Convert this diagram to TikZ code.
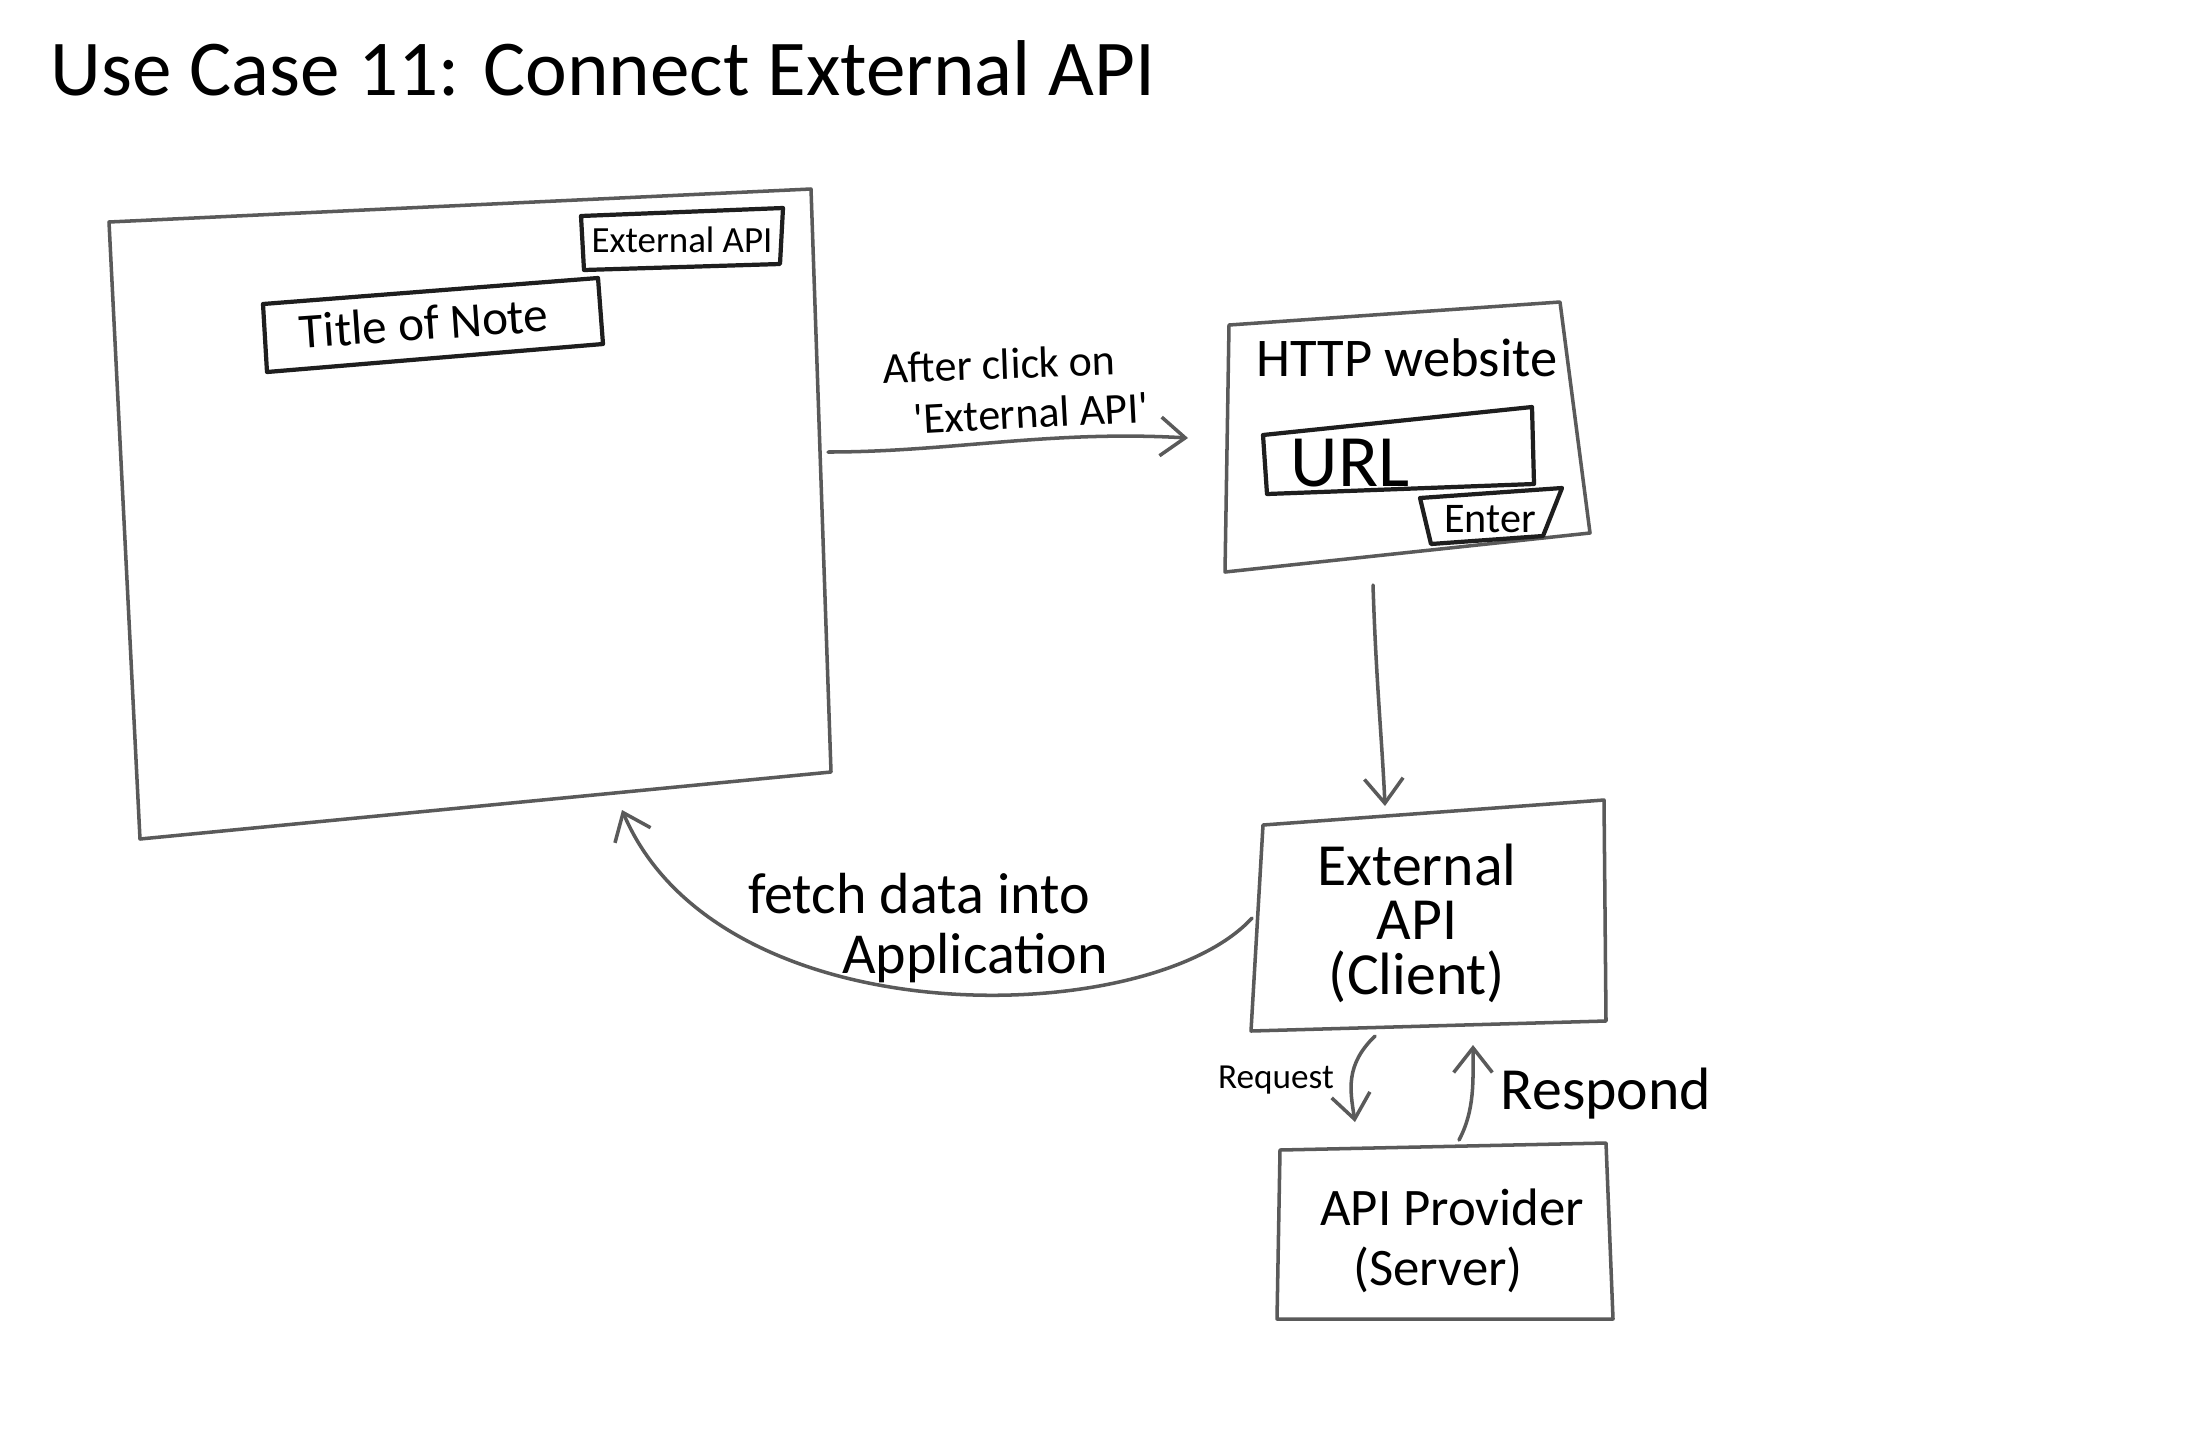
\documentclass[tikz,border=0pt]{standalone}
\usepackage{fontspec}
\setmainfont{Carlito}
\usetikzlibrary{arrows.meta}
\definecolor{pencil}{HTML}{5A5A5A}
\definecolor{inkc}{HTML}{1E1E1E}
\begin{document}
\begin{tikzpicture}[x=0.01cm,y=-0.01cm,
  pencilbox/.style={draw=pencil, line width=1pt, line join=round},
  inkbox/.style={draw=inkc, line width=1.2pt, line join=round},
  flow/.style={draw=pencil, line width=1pt, line cap=round, -{Straight Barb[length=7pt,width=11pt]}},
  txt/.style={inner sep=0pt, text=black, align=center},
]
\useasboundingbox[fill=white] (0,0) rectangle (2200,1445);

% title
\node[txt, anchor=west, font=\fontsize{22.5}{26}\selectfont] (title) at (50,68) {Use Case 11: Connect External API};

% application window
\coordinate (appNW) at (109,222);
\coordinate (appNE) at (811,189);
\coordinate (appSE) at (831,772);
\coordinate (appSW) at (140,839);
\draw[pencilbox] (appNW) -- (appNE) -- (appSE) -- (appSW) -- cycle;
\coordinate (appE) at (828,452);
\coordinate (appS) at (622,810);

% External API button
\draw[inkbox] (581,216) -- (783,208) -- (780,264) -- (584,270) -- cycle;
\node[txt, font=\fontsize{10.5}{12}\selectfont] (btnapi) at (682,240) {External API};

% Title of Note box
\draw[inkbox] (263,304) -- (598,278) -- (603,344) -- (267,372) -- cycle;
\node[txt, rotate=4, font=\fontsize{14}{16}\selectfont] (notetitle) at (424,323) {Title of Note};

% HTTP website window
\coordinate (webNW) at (1229,325);
\coordinate (webNE) at (1560,302);
\coordinate (webSE) at (1590,533);
\coordinate (webSW) at (1225,572);
\draw[pencilbox] (webNW) -- (webNE) -- (webSE) -- (webSW) -- cycle;
\coordinate (webW) at (1188,438);
\coordinate (webS) at (1373,585);
\node[txt, font=\fontsize{15.5}{18}\selectfont] (webtitle) at (1407,358) {HTTP website};

% URL field
\draw[inkbox] (1263,435) -- (1532,407) -- (1534,484) -- (1267,494) -- cycle;
\node[txt, font=\fontsize{21}{24}\selectfont] (url) at (1350,463) {URL};

% Enter button
\draw[inkbox] (1420,498) -- (1562,488) -- (1543,536) -- (1431,544) -- cycle;
\node[txt, font=\fontsize{12}{14}\selectfont] (enter) at (1490,519) {Enter};

% External API client
\coordinate (cliN) at (1385,806);
\coordinate (cliW) at (1252,918);
\coordinate (cliSa) at (1375,1036);
\coordinate (cliSb) at (1473,1045);
\draw[pencilbox] (1263,825) -- (1604,800) -- (1606,1021) -- (1251,1031) -- cycle;
\node[txt, font=\fontsize{17}{15.5}\selectfont] (client) at (1417,923) {External\\API\\(Client)};

% API provider server
\coordinate (srvNa) at (1355,1122);
\coordinate (srvNb) at (1459,1140);
\draw[pencilbox] (1280,1150) -- (1606,1143) -- (1613,1319) -- (1277,1319) -- cycle;
\node[txt, font=\fontsize{15}{18}\selectfont] (provider) at (1452,1207) {API Provider};
\node[txt, font=\fontsize{15}{18}\selectfont] (server) at (1438,1270) {(Server)};

% connectors
\draw[flow] (appE) .. controls (950,452) and (1050,430) .. (webW);
\node[txt, rotate=2, font=\fontsize{12.5}{15}\selectfont] (lblclick1) at (999,364) {After click on};
\node[txt, rotate=3, font=\fontsize{12.5}{15}\selectfont] (lblclick2) at (1031,413) {\textquotesingle External API\textquotesingle};

\draw[flow] (webS) .. controls (1376,680) and (1382,740) .. (cliN);

\draw[flow] (cliW) .. controls (1150,1030) and (720,1040) .. (appS);
\node[txt, font=\fontsize{16.5}{19}\selectfont] (lblfetch1) at (919,894) {fetch data into};
\node[txt, font=\fontsize{16.5}{19}\selectfont] (lblfetch2) at (975,958) {Application};

\draw[flow] (cliSa) .. controls (1345,1065) and (1350,1090) .. (srvNa);
\node[txt, font=\fontsize{10}{12}\selectfont] (lblreq) at (1276,1080) {Request};

\draw[flow] (srvNb) .. controls (1475,1110) and (1473,1080) .. (cliSb);
\node[txt, font=\fontsize{17}{20}\selectfont] (lblresp) at (1606,1094) {Respond};

\end{tikzpicture}
\end{document}
